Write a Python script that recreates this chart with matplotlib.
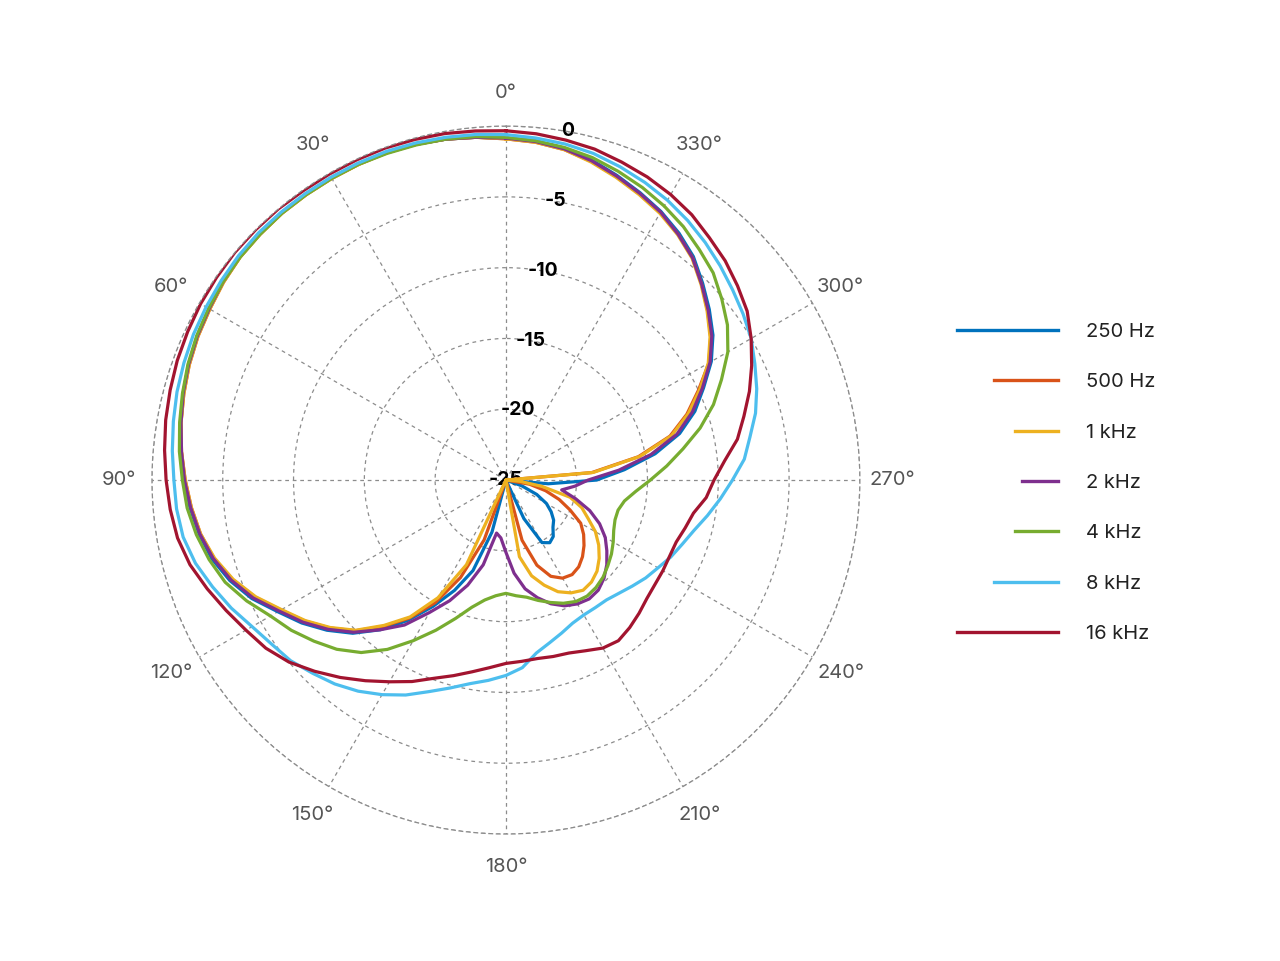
import numpy as np
import matplotlib.pyplot as plt

plt.rcParams['font.family'] = ['Inter', 'DejaVu Sans']

# angle grid in degrees, 0 at top, counter-clockwise
angles = np.arange(0, 360, 5)

f250 = [
    -0.85, -0.7, -0.55, -0.45, -0.4, -0.35, -0.35, -0.35, -0.35, -0.4, -0.45, -0.6,
    -0.8, -0.95, -1.15, -1.4, -1.65, -1.95, -2.3, -2.6, -3.0, -3.5, -4.25, -5.2,
    -6.4, -7.4, -8.5, -9.7, -11.2, -12.9, -14.7, -16.4, -18.2, -21.2, -25, -25,
    -25, -25, -25, -25, -25, -22.0, -19.9, -19.6, -19.8, -20.3, -20.6, -21.1,
    -21.7, -22.6, -23.8, -25, -25, -22.0, -18.6, -16.6, -14.3, -12.3, -10.8, -9.6,
    -8.25, -7.15, -6.25, -5.35, -4.4, -3.7, -3.1, -2.6, -2.1, -1.6, -1.2, -0.95,
]
f500 = [
    -0.9, -0.7, -0.55, -0.45, -0.4, -0.4, -0.4, -0.4, -0.4, -0.45, -0.5, -0.65,
    -0.85, -1.0, -1.2, -1.45, -1.7, -2.0, -2.35, -2.7, -3.1, -3.65, -4.45, -5.45,
    -6.65, -7.65, -8.75, -9.95, -11.5, -13.1, -15.0, -17.4, -20.5, -25, -25, -25,
    -25, -25, -25, -20.6, -18.6, -17.5, -17.0, -16.85, -17.0, -17.35, -17.8, -18.3,
    -18.9, -20.0, -21.0, -22.1, -23.3, -25, -25, -18.9, -15.5, -13.0, -11.4, -10.0,
    -8.45, -7.35, -6.4, -5.45, -4.5, -3.8, -3.2, -2.7, -2.2, -1.7, -1.3, -1.05,
]
f1k = [
    -0.9, -0.7, -0.55, -0.45, -0.4, -0.4, -0.4, -0.4, -0.4, -0.45, -0.5, -0.65,
    -0.85, -1.0, -1.2, -1.45, -1.7, -2.0, -2.35, -2.7, -3.1, -3.7, -4.5, -5.5,
    -6.7, -7.7, -8.8, -10.0, -11.6, -13.2, -15.4, -18.4, -25, -25, -25, -25,
    -25, -25, -19.5, -18.0, -17.1, -16.3, -15.8, -15.5, -15.6, -15.9, -16.4, -17.0,
    -17.7, -18.6, -19.3, -20.3, -22.4, -24.0, -25, -18.8, -15.4, -12.9, -11.3, -9.9,
    -8.5, -7.4, -6.45, -5.5, -4.55, -3.85, -3.25, -2.75, -2.25, -1.75, -1.3, -1.05,
]
f2k = [
    -0.85, -0.7, -0.55, -0.45, -0.4, -0.35, -0.35, -0.35, -0.35, -0.4, -0.45, -0.6,
    -0.8, -0.95, -1.15, -1.4, -1.7, -2.0, -2.3, -2.65, -3.05, -3.6, -4.35, -5.3,
    -6.5, -7.5, -8.6, -9.8, -11.2, -12.5, -14.2, -15.6, -17.1, -18.8, -21.2, -20.9,
    -19.9, -18.4, -17.2, -16.4, -15.7, -15.2, -14.9, -14.75, -14.85, -15.2, -15.7, -16.3,
    -16.9, -17.7, -18.7, -19.9, -21.0, -20.1, -19.2, -17.0, -14.6, -12.5, -11.0, -9.7,
    -8.35, -7.25, -6.35, -5.45, -4.5, -3.8, -3.15, -2.65, -2.15, -1.65, -1.25, -1.0,
]
f4k = [
    -0.8, -0.65, -0.55, -0.5, -0.45, -0.4, -0.4, -0.4, -0.4, -0.45, -0.5, -0.6,
    -0.75, -0.9, -1.1, -1.35, -1.6, -1.85, -2.15, -2.4, -2.8, -3.3, -3.9, -4.8,
    -5.8, -6.5, -7.3, -8.1, -9.1, -10.4, -11.9, -13.3, -14.6, -15.7, -16.4, -16.8,
    -17.0, -16.8, -16.6, -16.2, -15.8, -15.4, -15.1, -15.0, -15.1, -15.3, -15.6, -15.9,
    -16.25, -16.6, -16.8, -16.8, -16.5, -15.8, -14.8, -13.6, -12.3, -10.8, -9.4, -8.2,
    -6.9, -5.9, -5.1, -4.3, -3.75, -3.15, -2.65, -2.2, -1.8, -1.42, -1.15, -0.95,
]
f8k = [
    -0.6, -0.5, -0.42, -0.35, -0.3, -0.3, -0.3, -0.3, -0.3, -0.3, -0.35, -0.45,
    -0.55, -0.65, -0.8, -0.95, -1.15, -1.35, -1.55, -1.65, -1.85, -2.3, -2.95, -3.6,
    -4.3, -4.8, -5.15, -5.7, -6.2, -6.8, -7.5, -8.25, -9.1, -9.8, -10.4, -10.8,
    -11.2, -11.7, -12.6, -13.1, -13.5, -13.85, -14.0, -14.0, -13.95, -13.7, -13.35, -12.95,
    -12.6, -12.15, -11.75, -11.25, -10.55, -9.8, -9.0, -8.1, -7.5, -6.75, -6.15, -5.6,
    -5.0, -4.55, -4.1, -3.6, -3.1, -2.62, -2.18, -1.8, -1.45, -1.12, -0.9, -0.75,
]
f16k = [
    -0.33, -0.25, -0.15, -0.1, -0.05, -0.05, -0.05, -0.05, 0.0, 0.0, 0.0, -0.05,
    -0.1, -0.2, -0.3, -0.45, -0.6, -0.8, -1.0, -1.2, -1.45, -1.9, -2.55, -3.2,
    -3.8, -4.3, -5.0, -5.9, -6.8, -7.7, -8.55, -9.3, -10.1, -10.7, -11.25, -11.7,
    -12.05, -12.15, -12.2, -12.1, -12.0, -11.7, -11.3, -11.15, -11.4, -11.7, -12.0, -12.15,
    -12.2, -12.25, -12.2, -11.9, -11.55, -10.8, -10.3, -9.5, -8.4, -7.6, -6.7, -5.85,
    -5.0, -4.2, -3.65, -3.1, -2.65, -2.12, -1.72, -1.38, -1.1, -0.8, -0.62, -0.45,
]

labels = ["250 Hz", "500 Hz", "1 kHz", "2 kHz", "4 kHz", "8 kHz", "16 kHz"]
series = [f250, f500, f1k, f2k, f4k, f8k, f16k]
colors = ["#0072BD", "#D95319", "#EDB120", "#7E2F8E", "#77AC30", "#4DBEEE", "#A2142F"]
handle_fracs = [1.0, 0.63, 0.42, 0.35, 0.42, 0.63, 1.0]

r_ticks = [-25, -20, -15, -10, -5, 0]
theta_ticks = np.arange(0, 360, 30)

fig = plt.figure(figsize=(12.8, 9.61), dpi=100)
ax = fig.add_axes([0.1187, 0.1321, 0.5531, 0.7367], projection='polar')
ax.set_theta_zero_location('N')
ax.set_theta_direction(1)

th = np.deg2rad(np.append(angles, 360))
for vals, lab, col in zip(series, labels, colors):
    r = np.append(vals, vals[0])
    ax.plot(th, r, color=col, lw=2.3, label=lab)

ax.set_rlim(-25, 0)
ax.set_yticks(r_ticks)
ax.set_yticklabels([str(v) for v in r_ticks], fontsize=14, fontweight='bold', color='black')
ax.set_rlabel_position(350)
for t in ax.get_yticklabels():
    t.set_ha('center')
    t.set_va('center')

ax.set_xticks(np.deg2rad(theta_ticks))
ax.set_xticklabels([f"{a}°" for a in theta_ticks], fontsize=14.5, color='#555555')
ax.tick_params(axis='x', pad=13)

ax.grid(True, color='#8c8c8c', linestyle=(0, (3, 3)), linewidth=0.9)
ax.spines['polar'].set_linestyle((0, (3, 3)))
ax.spines['polar'].set_color('#8c8c8c')
ax.spines['polar'].set_linewidth(0.9)

leg = fig.legend(loc='upper left', bbox_to_anchor=(957 / 1280, 1 - 323 / 961),
                 frameon=False, fontsize=14.5, handlelength=5, handletextpad=1.4,
                 labelspacing=1.6, borderpad=0, borderaxespad=0)
for line, frac in zip(leg.get_lines(), handle_fracs):
    line.set_linewidth(2.4)
    xd = np.asarray(line.get_xdata(), dtype=float)
    x1 = xd[-1]
    x0 = x1 - frac * (x1 - xd[0])
    line.set_xdata(np.linspace(x0, x1, len(xd)))
for t in leg.get_texts():
    t.set_color('#222222')

fig.savefig('out.png', dpi=100)
